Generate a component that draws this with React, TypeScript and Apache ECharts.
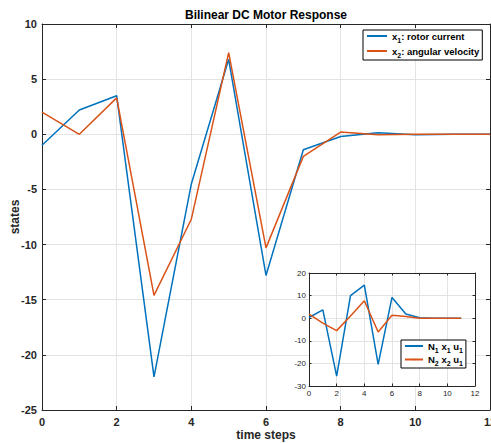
import React, { useEffect, useRef } from "react";
import * as echarts from "echarts";

const steps = [0, 1, 2, 3, 4, 5, 6, 7, 8, 9, 10, 11, 12];
const rotorCurrent = [-1.0, 2.2, 3.5, -22.0, -4.5, 6.8, -12.8, -1.4, -0.2, 0.15, -0.05, 0, 0];
const angularVelocity = [2.0, 0, 3.3, -14.6, -7.7, 7.4, -10.3, -2.0, 0.2, -0.05, 0, 0, 0];

const insetSteps = [0, 1, 2, 3, 4, 5, 6, 7, 8, 9, 10, 11];
const n1x1u1 = [0.3, 3.7, -25.6, 10.0, 14.6, -20.4, 9.2, 1.9, 0.2, 0, 0, 0];
const n2x2u1 = [1.8, -2.2, -5.5, 1.0, 7.7, -6.1, 1.3, 0.8, 0, 0, 0, 0];

const BLUE = "#0072BD";
const ORANGE = "#D95319";
const FONT = "Liberation Sans, Arial, Helvetica, sans-serif";
const TXT = "#262626";

const pairs = (xs: number[], ys: number[]) => xs.map((x, i) => [x, ys[i]]);

export default function App() {
  const ref = useRef<HTMLDivElement>(null);
  useEffect(() => {
    const chart = echarts.init(ref.current!, null, { renderer: "svg" });
    const mainGrid = { left: 42, top: 24, width: 448, height: 386 };
    const insetGrid = { left: 309, top: 273, width: 166, height: 113 };
    const split = { show: true, lineStyle: { color: "#e3e3e3", width: 1 } };
    const mkRich = (lh: number) => ({
      n: { fontSize: 9.5, fontWeight: "bold", color: "#000", fontFamily: FONT, lineHeight: lh, verticalAlign: "middle" },
      s: { fontSize: 7, fontWeight: "bold", color: "#000", fontFamily: FONT, lineHeight: 8, verticalAlign: "bottom" },
    });
    const tickAxis = (extra: any, len: number) => ({
      type: "value",
      axisLine: { show: true, onZero: false, lineStyle: { color: TXT, width: 1 } },
      axisTick: { show: true, inside: true, length: len, lineStyle: { color: TXT } },
      ...extra,
    });
    chart.setOption({
      animation: false,
      backgroundColor: "#fff",
      graphic: [
        {
          type: "text",
          x: 266,
          y: 15,
          style: {
            text: "Bilinear DC Motor Response",
            align: "center",
            verticalAlign: "middle",
            font: `bold 12px ${FONT}`,
            fill: "#000",
          },
        },
      ],
      grid: [
        { ...mainGrid, show: false, z: 0, outerBoundsMode: "none", containLabel: false },
        { ...insetGrid, show: true, backgroundColor: "#fff", borderWidth: 0, z: 5, outerBoundsMode: "none", containLabel: false },
      ],
      xAxis: [
        tickAxis({
          gridIndex: 0, min: 0, max: 12, interval: 2,
          name: "time steps", nameLocation: "middle", nameGap: 19, nameMoveOverlap: false,
          nameTextStyle: { fontSize: 12, fontWeight: "bold", color: TXT, fontFamily: FONT },
          axisLabel: { fontSize: 11, fontWeight: "bold", color: TXT, fontFamily: FONT, margin: 6 },
          splitLine: split,
        }, 4),
        tickAxis({
          gridIndex: 0, min: 0, max: 12, interval: 2, position: "top",
          axisLabel: { show: false }, splitLine: { show: false },
        }, 4),
        tickAxis({
          gridIndex: 1, min: 0, max: 12, interval: 2, z: 6,
          axisLabel: { fontSize: 8, color: TXT, fontFamily: FONT, margin: 3 },
          splitLine: split,
        }, 2.5),
        tickAxis({
          gridIndex: 1, min: 0, max: 12, interval: 2, position: "top", z: 6,
          axisLabel: { show: false }, splitLine: { show: false },
        }, 2.5),
      ],
      yAxis: [
        tickAxis({
          gridIndex: 0, min: -25, max: 10, interval: 5,
          name: "states", nameLocation: "middle", nameGap: 21, nameMoveOverlap: false,
          nameTextStyle: { fontSize: 12, fontWeight: "bold", color: TXT, fontFamily: FONT },
          axisLabel: { fontSize: 11, fontWeight: "bold", color: TXT, fontFamily: FONT, margin: 5 },
          splitLine: split,
        }, 4),
        tickAxis({
          gridIndex: 0, min: -25, max: 10, interval: 5, position: "right",
          axisLabel: { show: false }, splitLine: { show: false },
        }, 4),
        tickAxis({
          gridIndex: 1, min: -30, max: 20, interval: 10, z: 6,
          axisLabel: { fontSize: 8, color: TXT, fontFamily: FONT, margin: 3 },
          splitLine: split,
        }, 2.5),
        tickAxis({
          gridIndex: 1, min: -30, max: 20, interval: 10, position: "right", z: 6,
          axisLabel: { show: false }, splitLine: { show: false },
        }, 2.5),
      ],
      legend: [
        {
          data: ["x1", "x2"],
          orient: "vertical",
          left: 363, top: 30,
          itemWidth: 20, itemHeight: 2, itemGap: 2,
          padding: [1, 3, 1, 3],
          borderColor: "#000", borderWidth: 1, backgroundColor: "#fff",
          selectedMode: false,
          textStyle: { rich: mkRich(16) },
          formatter: (name: string) =>
            name === "x1" ? "{n|x}{s|1}{n|: rotor current}" : "{n|x}{s|2}{n|: angular velocity}",
          z: 10,
        },
        {
          data: ["n1", "n2"],
          orient: "vertical",
          left: 401, top: 340,
          itemWidth: 18, itemHeight: 2, itemGap: 1,
          padding: [1, 3, 1, 3],
          borderColor: "#000", borderWidth: 1, backgroundColor: "#fff",
          selectedMode: false,
          textStyle: { rich: mkRich(15) },
          formatter: (name: string) =>
            name === "n1" ? "{n|N}{s|1}{n| x}{s|1}{n| u}{s|1}" : "{n|N}{s|2}{n| x}{s|2}{n| u}{s|1}",
          z: 10,
        },
      ],
      series: [
        {
          name: "x1", type: "line", xAxisIndex: 0, yAxisIndex: 0,
          data: pairs(steps, rotorCurrent), symbol: "none",
          lineStyle: { color: BLUE, width: 1.5 }, itemStyle: { color: BLUE }, z: 2,
        },
        {
          name: "x2", type: "line", xAxisIndex: 0, yAxisIndex: 0,
          data: pairs(steps, angularVelocity), symbol: "none",
          lineStyle: { color: ORANGE, width: 1.5 }, itemStyle: { color: ORANGE }, z: 2,
        },
        {
          name: "n1", type: "line", xAxisIndex: 2, yAxisIndex: 2,
          data: pairs(insetSteps, n1x1u1), symbol: "none",
          lineStyle: { color: BLUE, width: 1.5 }, itemStyle: { color: BLUE }, z: 7,
        },
        {
          name: "n2", type: "line", xAxisIndex: 2, yAxisIndex: 2,
          data: pairs(insetSteps, n2x2u1), symbol: "none",
          lineStyle: { color: ORANGE, width: 1.5 }, itemStyle: { color: ORANGE }, z: 7,
        },
      ],
    });
    return () => chart.dispose();
  }, []);
  return (
    <div
      ref={ref}
      style={{ position: "fixed", left: 0, top: 0, width: 491, height: 443, background: "#fff" }}
    />
  );
}
